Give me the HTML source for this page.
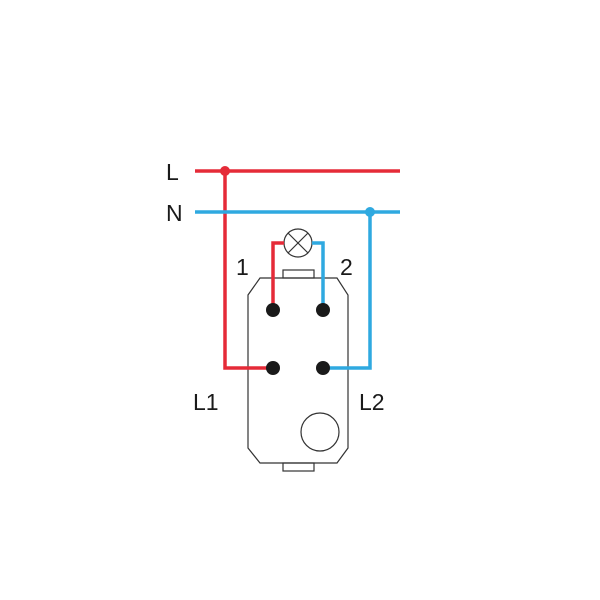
<!DOCTYPE html>
<html><head><style>body{margin:0;background:#fff}svg{display:block}</style></head><body>
<svg width="600" height="600" viewBox="0 0 600 600" xmlns="http://www.w3.org/2000/svg">
<g fill="none" stroke="#333" stroke-width="1.2">
<polygon points="260,278 337,278 348,295 348,448 337,463 260,463 248,448 248,295"/>
<rect x="283" y="270" width="31" height="8"/>
<rect x="283" y="463" width="31" height="8"/>
<circle cx="320" cy="432" r="19"/>
<circle cx="298" cy="243" r="14"/>
<line x1="288" y1="233" x2="308" y2="253"/>
<line x1="308" y1="233" x2="288" y2="253"/>
</g>
<g fill="none" stroke-width="3.5">
<polyline stroke="#e52b38" points="195,171 400,171"/>
<polyline stroke="#e52b38" points="225,171 225,368 273,368"/>
<polyline stroke="#e52b38" points="284,243 273,243 273,310"/>
<polyline stroke="#2fa9e0" points="195,212 400,212"/>
<polyline stroke="#2fa9e0" points="370,212 370,368 323,368"/>
<polyline stroke="#2fa9e0" points="312,243 323,243 323,310"/>
</g>
<circle cx="225" cy="171" r="5" fill="#e52b38"/>
<circle cx="370" cy="212" r="5" fill="#2fa9e0"/>
<g fill="#1a1a1a">
<circle cx="273" cy="310" r="7"/><circle cx="323" cy="310" r="7"/>
<circle cx="273" cy="368" r="7"/><circle cx="323" cy="368" r="7"/>
</g>
<g font-family="Liberation Sans, sans-serif" font-size="23" fill="#1a1a1a">
<text x="166" y="180">L</text>
<text x="166" y="221">N</text>
<text x="236" y="275">1</text>
<text x="340" y="275">2</text>
<text x="193" y="410">L1</text>
<text x="359" y="410">L2</text>
</g>
</svg>
</body></html>
